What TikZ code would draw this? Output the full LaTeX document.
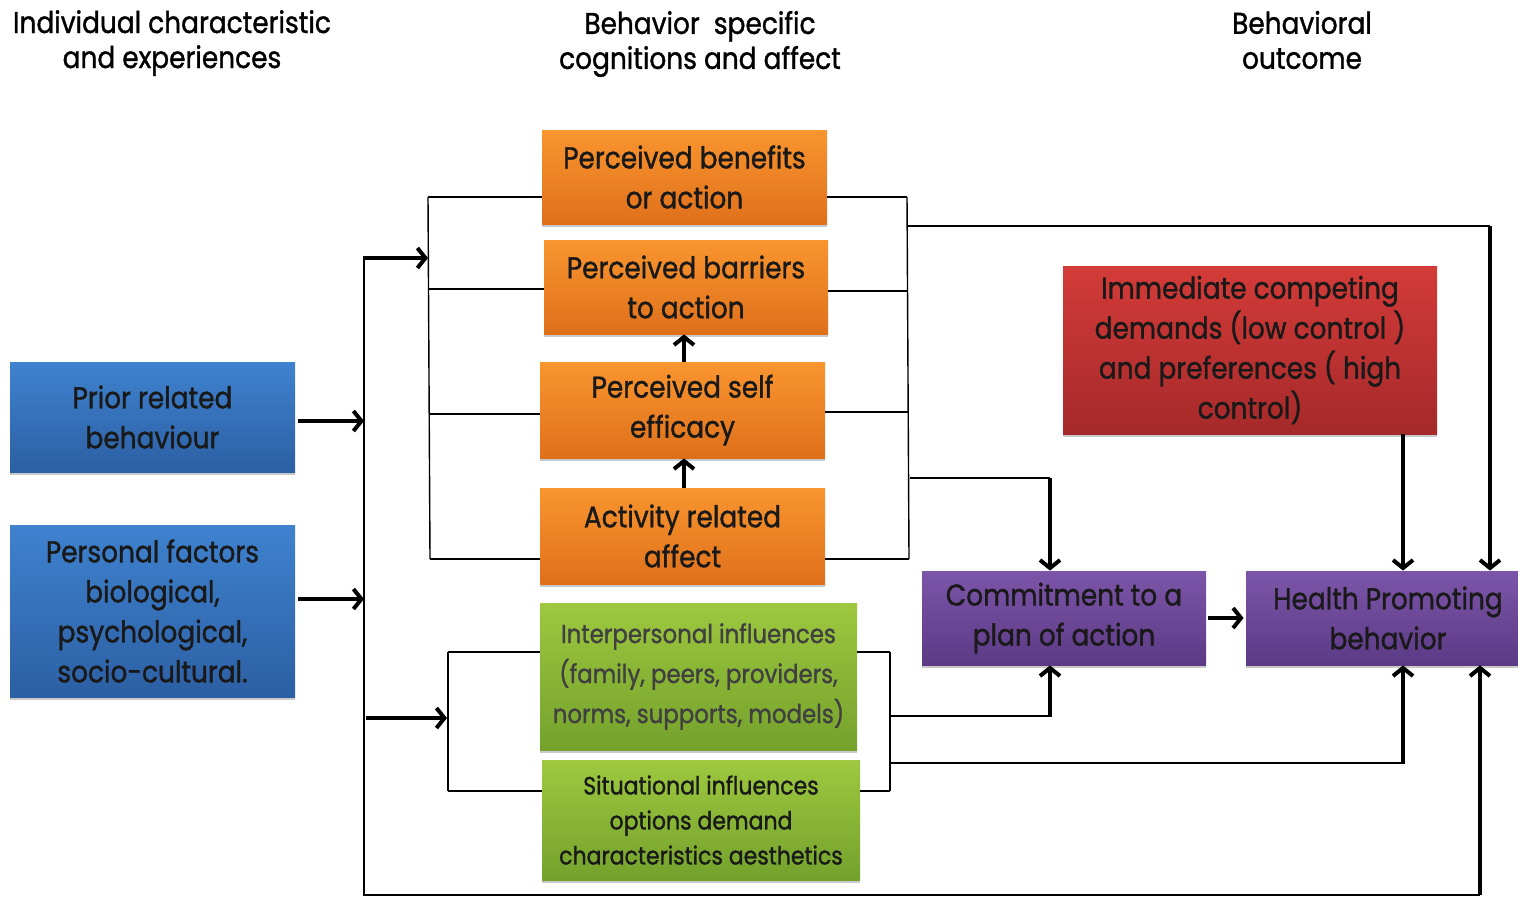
\documentclass[tikz,border=0pt]{standalone}
\usepackage{fontspec}
\setmainfont{Poppins}[FakeStretch=0.88, FakeBold=1.2]
\usetikzlibrary{arrows.meta,shadows,calc}
\definecolor{bluetop}{HTML}{3F82CF}
\definecolor{bluebot}{HTML}{2C5FA3}
\definecolor{orgtop}{HTML}{F9952F}
\definecolor{orgbot}{HTML}{DF701B}
\definecolor{grntop}{HTML}{9DC83F}
\definecolor{grnbot}{HTML}{74A12C}
\definecolor{redtop}{HTML}{D33B38}
\definecolor{redbot}{HTML}{A5292A}
\definecolor{purtop}{HTML}{7C55A8}
\definecolor{purbot}{HTML}{5C3A85}
\tikzset{
  boxbase/.style={rectangle, inner sep=1pt, align=center, text=black!90,
    font=\fontsize{15}{20}\selectfont,
    drop shadow={shadow xshift=0pt, shadow yshift=-1.5pt, fill=black!35, opacity=0.6}},
  bluebox/.style={boxbase, top color=bluetop, bottom color=bluebot},
  orangebox/.style={boxbase, top color=orgtop, bottom color=orgbot},
  greenbox/.style={boxbase, top color=grntop, bottom color=grnbot},
  redbox/.style={boxbase, top color=redtop, bottom color=redbot},
  purplebox/.style={boxbase, top color=purtop, bottom color=purbot},
  header/.style={align=center, font=\fontsize{15}{17.5}\selectfont},
  thinline/.style={draw=black, line width=0.7pt},
  bigarrow/.style={draw=black, line width=2pt, -{Straight Barb[length=4pt,width=10pt,line width=2pt]}},
}
\begin{document}
\begin{tikzpicture}[x=0.5pt,y=-0.5pt]
\useasboundingbox (0,0) rectangle (1518,896);
\clip (0,0) rectangle (1518,896);
\fill[white] (0,0) rectangle (1518,896);

% headers
\node[header] (h1) at (172,43) {Individual characteristic\\and experiences};
\node[header] (h2) at (700,44) {Behavior\ \ specific\\cognitions and affect};
\node[header] (h3) at (1302,40) {Behavioral\\outcome};

% left boxes
\node[bluebox, minimum width=142.5pt, minimum height=55pt] (prior) at (152.5,417) {Prior related\\behaviour};
\node[bluebox, minimum width=142.5pt, minimum height=86pt] (pers) at (152.5,611) {Personal factors\\biological,\\psychological,\\socio-cultural.};

% orange boxes
\node[orangebox, minimum width=142.5pt, minimum height=47pt] (ben) at (684.5,177) {Perceived benefits\\or action};
\node[orangebox, minimum width=142pt, minimum height=47pt] (bar) at (686,287) {Perceived barriers\\to action};
\node[orangebox, minimum width=142.5pt, minimum height=48pt] (eff) at (682.5,410) {Perceived self\\efficacy};
\node[orangebox, minimum width=142.5pt, minimum height=48pt] (aff) at (682.5,536) {Activity related\\affect};

% green boxes
\node[greenbox, minimum width=158.5pt, minimum height=73.5pt, text=black!75, font=\fontsize{13}{20}\selectfont] (inter) at (698.5,676.5) {Interpersonal influences\\(family, peers, providers,\\norms, supports, models)};
\node[greenbox, minimum width=159pt, minimum height=60pt, font=\fontsize{12.5}{17.5}\selectfont] (sit) at (701,820) {Situational influences\\options demand\\characteristics aesthetics};

% red box
\node[redbox, minimum width=187pt, minimum height=84pt] (red) at (1250,350) {Immediate competing\\demands (low control )\\and preferences ( high\\control)};

% purple boxes
\node[purplebox, minimum width=142pt, minimum height=47pt] (com) at (1064,618) {Commitment to a\\plan of action};
\node[purplebox, minimum width=142pt, minimum height=47pt] (hpb) at (1388,618) {Health Promoting\\behavior};

% trunk coordinates
\coordinate (t1) at (364,421);
\coordinate (t2) at (364,599);
\coordinate (ttop) at (364,258);
\coordinate (tbot) at (364,895);
\coordinate (tgreen) at (366,718);
\coordinate (bR) at (1480,895);

\draw[bigarrow] ([xshift=1.5pt]prior.east |- t1) -- (t1);
\draw[bigarrow] ([xshift=1.5pt]pers.east |- t2) -- (t2);
\draw[thinline] (ttop) -- (tbot) -- (bR);

% left orange bracket
\coordinate (lbA) at (428,197);
\coordinate (lbB) at (430,559);
\coordinate (lbArrow) at (428,258);
\draw[bigarrow] ([xshift=-0.5pt]ttop) -- (lbArrow);
\draw[thinline] (lbA) -- (lbB);
\draw[thinline] (lbA) -- (lbA -| ben.west);
\draw[thinline] (429,289) -- (bar.west |- 0,289);
\draw[thinline] (430,414) -- (eff.west |- 0,414);
\draw[thinline] (lbB) -- (lbB -| aff.west);

% right orange bracket
\coordinate (rbA) at (907,197);
\coordinate (rbB) at (909,559);
\draw[thinline] (rbA) -- (rbB);
\draw[thinline] (ben.east |- rbA) -- (rbA);
\draw[thinline] (bar.east |- 0,291) -- (908,291);
\draw[thinline] (eff.east |- 0,412) -- (908,412);
\draw[thinline] (aff.east |- rbB) -- (rbB);

% right bracket outputs
\coordinate (rTop) at (907,226);
\coordinate (cTopR) at (1490,226);
\draw[thinline, line width=1pt] (rTop) -- (cTopR);
\draw[bigarrow] (cTopR) -- (hpb.north -| cTopR);
\coordinate (rMid) at (910,478);
\coordinate (cMid) at (1050,478);
\draw[thinline, line width=1pt] (rMid) -- (cMid);
\draw[bigarrow] (cMid) -- (com.north -| cMid);

% vertical arrows among orange boxes
\draw[bigarrow] (eff.north -| 684,0) -- (bar.south -| 684,0);
\draw[bigarrow] (aff.north -| 684,0) -- (eff.south -| 684,0);

% red to health
\coordinate (redx) at (1403,434);
\draw[bigarrow] (red.south -| redx) -- (hpb.north -| redx);

% commitment to health
\draw[bigarrow] ([xshift=1pt]com.east) -- ([xshift=-1pt]hpb.west);

% green group
\coordinate (glArrow) at (447,718);
\draw[bigarrow] (tgreen) -- (glArrow);
\coordinate (glA) at (448,652);
\coordinate (glB) at (448,791);
\draw[thinline] (glA) -- (glB);
\draw[thinline] (glA) -- (glA -| inter.west);
\draw[thinline] (glB) -- (glB -| sit.west);
\coordinate (grA) at (890,652);
\coordinate (grB) at (890,791);
\draw[thinline] (grA) -- (grB);
\draw[thinline] (inter.east |- grA) -- (grA);
\draw[thinline] (sit.east |- grB) -- (grB);

\coordinate (gOut1) at (890,716);
\coordinate (gC1) at (1050,716);
\draw[thinline, line width=1pt] (gOut1) -- (gC1);
\draw[bigarrow] ([yshift=-0.5pt]gC1) -- (com.south -| gC1);
\coordinate (gOut2) at (890,763);
\coordinate (gC2) at (1403,763);
\draw[thinline, line width=1pt] (gOut2) -- (gC2);
\draw[bigarrow] ([yshift=-0.5pt]gC2) -- (hpb.south -| gC2);

% bottom line up to health
\draw[bigarrow] (bR) -- (hpb.south -| bR);
\end{tikzpicture}
\end{document}
